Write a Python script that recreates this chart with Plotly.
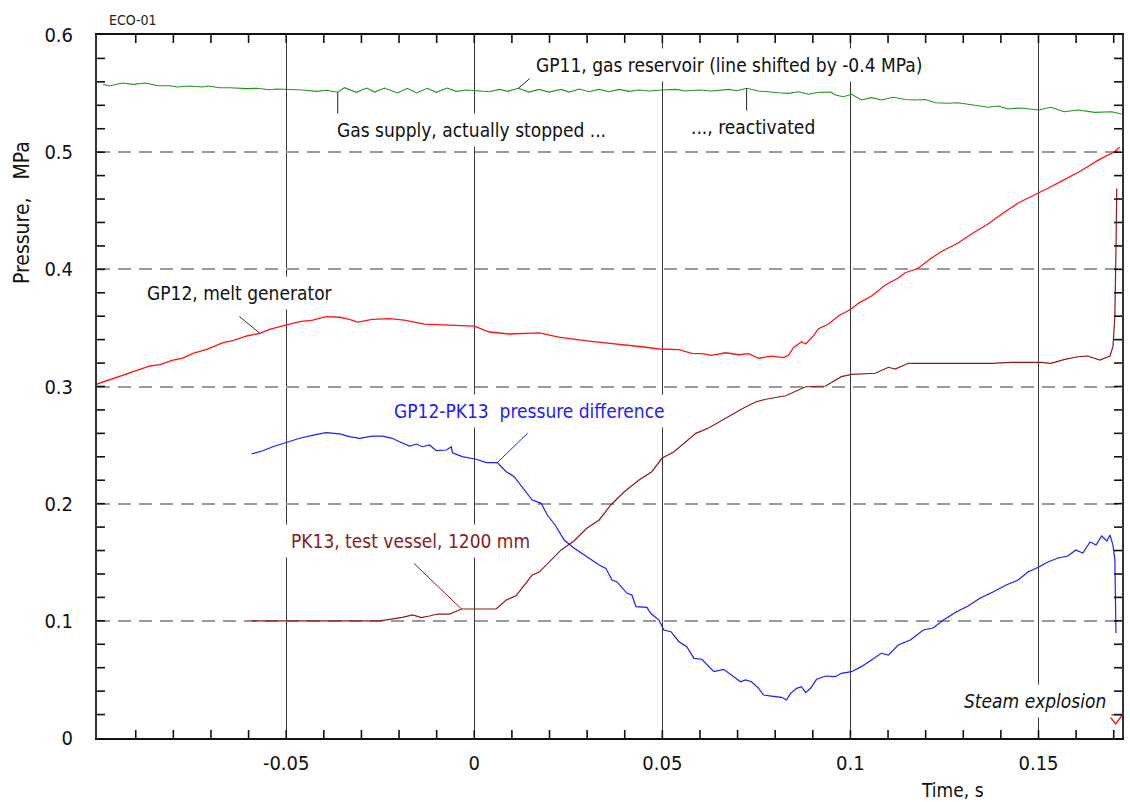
import plotly.graph_objects as go

FONT = "Liberation Sans Narrow, Arial Narrow, DejaVu Sans Condensed, sans-serif"

# ---- GP11, gas reservoir (shifted by -0.4 MPa) ----
gp11_t = [-0.0987, -0.0971, -0.0936, -0.0907, -0.0875, -0.0841, -0.0809, -0.0790, -0.0756,
          -0.0722, -0.0708, -0.0676, -0.0650, -0.0605, -0.0578, -0.0544, -0.0525, -0.0499,
          -0.0456, -0.0419, -0.0393, -0.0363, -0.0345, -0.0313, -0.0286, -0.0265, -0.0239,
          -0.0204, -0.0178, -0.0154, -0.0125, -0.0101, -0.0072, -0.0048, -0.0021, 0.0005,
          0.0040, 0.0066, 0.0088, 0.0117, 0.0146, 0.0172, 0.0199, 0.0231, 0.0252, 0.0279,
          0.0305, 0.0332, 0.0358, 0.0385, 0.0411, 0.0438, 0.0464, 0.0499, 0.0536, 0.0562,
          0.0597, 0.0631, 0.0676, 0.0698, 0.0724, 0.0756, 0.0782, 0.0809, 0.0836, 0.0862,
          0.0889, 0.0915, 0.0947, 0.0960, 0.0981, 0.1003, 0.1029, 0.1056, 0.1082, 0.1114,
          0.1146, 0.1172, 0.1199, 0.1225, 0.1260, 0.1286, 0.1326, 0.1366, 0.1393, 0.1419,
          0.1451, 0.1480, 0.1501, 0.1533, 0.1568, 0.1605, 0.1650, 0.1695, 0.1721]
gp11_p = [0.5579, 0.5565, 0.5590, 0.5579, 0.5590, 0.5567, 0.5567, 0.5556, 0.5565,
          0.5556, 0.5565, 0.5550, 0.5550, 0.5542, 0.5545, 0.5533, 0.5539, 0.5536,
          0.5530, 0.5519, 0.5528, 0.5511, 0.5550, 0.5511, 0.5547, 0.5513, 0.5547,
          0.5505, 0.5545, 0.5505, 0.5545, 0.5511, 0.5547, 0.5519, 0.5530, 0.5524,
          0.5516, 0.5536, 0.5519, 0.5545, 0.5513, 0.5536, 0.5513, 0.5536, 0.5513, 0.5539,
          0.5516, 0.5536, 0.5516, 0.5536, 0.5519, 0.5530, 0.5522, 0.5530, 0.5536, 0.5522,
          0.5530, 0.5522, 0.5536, 0.5524, 0.5545, 0.5522, 0.5513, 0.5507, 0.5502, 0.5516,
          0.5494, 0.5511, 0.5513, 0.5488, 0.5473, 0.5494, 0.5445, 0.5465, 0.5445, 0.5468,
          0.5450, 0.5445, 0.5450, 0.5422, 0.5417, 0.5422, 0.5402, 0.5383, 0.5394, 0.5368,
          0.5377, 0.5368, 0.5360, 0.5383, 0.5345, 0.5360, 0.5340, 0.5345, 0.5326]

# ---- GP12, melt generator ----
gp12_t = [-0.1003, -0.0934, -0.0862, -0.0836, -0.0801, -0.0775, -0.0748, -0.0711, -0.0668,
          -0.0642, -0.0605, -0.0570, -0.0544, -0.0499, -0.0464, -0.0430, -0.0393, -0.0358,
          -0.0332, -0.0310, -0.0271, -0.0225, -0.0186, -0.0133, -0.0080, 0.0000, 0.0040,
          0.0093, 0.0172, 0.0225, 0.0305, 0.0385, 0.0451, 0.0491, 0.0544, 0.0578, 0.0605,
          0.0631, 0.0668, 0.0703, 0.0729, 0.0756, 0.0790, 0.0822, 0.0836, 0.0849, 0.0870,
          0.0881, 0.0902, 0.0915, 0.0942, 0.0968, 0.1003, 0.1021, 0.1056, 0.1093, 0.1127,
          0.1146, 0.1180, 0.1215, 0.1241, 0.1286, 0.1326, 0.1366, 0.1406, 0.1446, 0.1499,
          0.1525, 0.1560, 0.1613, 0.1658, 0.1703, 0.1716]
gp12_p = [0.3021, 0.3098, 0.3175, 0.3186, 0.3226, 0.3243, 0.3283, 0.3317, 0.3374,
          0.3391, 0.3431, 0.3454, 0.3488, 0.3525, 0.3553, 0.3567, 0.3596, 0.3591,
          0.3573, 0.3550, 0.3573, 0.3579, 0.3567, 0.3533, 0.3525, 0.3516, 0.3465,
          0.3448, 0.3457, 0.3422, 0.3388, 0.3363, 0.3337, 0.3320, 0.3314, 0.3283, 0.3280,
          0.3266, 0.3288, 0.3271, 0.3280, 0.3241, 0.3260, 0.3246, 0.3269, 0.3334, 0.3382,
          0.3363, 0.3434, 0.3493, 0.3533, 0.3602, 0.3664, 0.3710, 0.3772, 0.3866, 0.3926,
          0.3971, 0.4009, 0.4094, 0.4150, 0.4225, 0.4310, 0.4387, 0.4481, 0.4566, 0.4646,
          0.4692, 0.4751, 0.4841, 0.4930, 0.5006, 0.5044]

# ---- PK13, test vessel, 1200 mm ----
pk13_t = [-0.0592, -0.0252, -0.0225, -0.0191, -0.0164, -0.0141, -0.0119, -0.0098, -0.0066,
          -0.0034, 0.0058, 0.0085, 0.0111, 0.0127, 0.0154, 0.0172, 0.0199, 0.0231, 0.0265,
          0.0300, 0.0332, 0.0363, 0.0398, 0.0438, 0.0472, 0.0499, 0.0531, 0.0562, 0.0589,
          0.0623, 0.0650, 0.0684, 0.0716, 0.0748, 0.0775, 0.0828, 0.0854, 0.0881, 0.0934,
          0.0976, 0.1003, 0.1066, 0.1101, 0.1119, 0.1154, 0.1286, 0.1374, 0.1427, 0.1507,
          0.1533, 0.1570, 0.1605, 0.1631, 0.1663, 0.1690, 0.1698, 0.1703, 0.1706, 0.1708]
pk13_p = [0.1000, 0.1000, 0.1013, 0.1030, 0.1050, 0.1027, 0.1041, 0.1058, 0.1058,
          0.1101, 0.1101, 0.1178, 0.1214, 0.1278, 0.1391, 0.1414, 0.1505, 0.1605, 0.1681,
          0.1792, 0.1861, 0.1989, 0.2100, 0.2202, 0.2273, 0.2387, 0.2443, 0.2529, 0.2600,
          0.2646, 0.2697, 0.2757, 0.2816, 0.2868, 0.2891, 0.2921, 0.2961, 0.2998, 0.3004,
          0.3084, 0.3104, 0.3113, 0.3164, 0.3149, 0.3198, 0.3198, 0.3198, 0.3206, 0.3206,
          0.3198, 0.3232, 0.3254, 0.3260, 0.3226, 0.3260, 0.3340, 0.3596, 0.4165, 0.4690]

# ---- GP12-PK13 pressure difference ----
diff_t = [-0.0592, -0.0562, -0.0536, -0.0499, -0.0464, -0.0419, -0.0393, -0.0358, -0.0332,
          -0.0305, -0.0271, -0.0244, -0.0218, -0.0199, -0.0172, -0.0154, -0.0138, -0.0119,
          -0.0101, -0.0074, -0.0061, -0.0058, -0.0032, 0.0005, 0.0032, 0.0061, 0.0085,
          0.0106, 0.0127, 0.0154, 0.0178, 0.0194, 0.0215, 0.0239, 0.0265, 0.0292, 0.0318,
          0.0332, 0.0350, 0.0366, 0.0379, 0.0393, 0.0406, 0.0419, 0.0430, 0.0459, 0.0469,
          0.0491, 0.0504, 0.0523, 0.0544, 0.0565, 0.0584, 0.0605, 0.0623, 0.0637, 0.0663,
          0.0684, 0.0708, 0.0721, 0.0737, 0.0756, 0.0769, 0.0790, 0.0817, 0.0830, 0.0841,
          0.0857, 0.0870, 0.0881, 0.0894, 0.0910, 0.0934, 0.0960, 0.0976, 0.1003, 0.1029,
          0.1056, 0.1082, 0.1101, 0.1127, 0.1159, 0.1194, 0.1220, 0.1247, 0.1281, 0.1313,
          0.1345, 0.1379, 0.1414, 0.1446, 0.1472, 0.1501, 0.1525, 0.1552, 0.1578, 0.1599,
          0.1618, 0.1637, 0.1653, 0.1668, 0.1682, 0.1690, 0.1698, 0.1703, 0.1706]
diff_p = [0.2424, 0.2452, 0.2486, 0.2520, 0.2558, 0.2592, 0.2606, 0.2595, 0.2572,
          0.2558, 0.2577, 0.2577, 0.2558, 0.2529, 0.2492, 0.2509, 0.2486, 0.2501,
          0.2452, 0.2458, 0.2486, 0.2435, 0.2401, 0.2379, 0.2350, 0.2350, 0.2273,
          0.2230, 0.2145, 0.2031, 0.2003, 0.1903, 0.1818, 0.1690, 0.1622, 0.1562, 0.1502,
          0.1476, 0.1448, 0.1348, 0.1334, 0.1278, 0.1235, 0.1220, 0.1121, 0.1115, 0.1064,
          0.1007, 0.0922, 0.0907, 0.0822, 0.0779, 0.0680, 0.0672, 0.0609, 0.0566, 0.0586,
          0.0538, 0.0480, 0.0495, 0.0480, 0.0424, 0.0367, 0.0358, 0.0347, 0.0324, 0.0381,
          0.0424, 0.0438, 0.0387, 0.0424, 0.0501, 0.0529, 0.0523, 0.0552, 0.0566, 0.0609,
          0.0666, 0.0723, 0.0708, 0.0794, 0.0836, 0.0922, 0.0939, 0.1007, 0.1075, 0.1127,
          0.1195, 0.1246, 0.1306, 0.1348, 0.1417, 0.1459, 0.1502, 0.1536, 0.1553, 0.1605,
          0.1579, 0.1673, 0.1647, 0.1724, 0.1681, 0.1733, 0.1647, 0.1519, 0.0896]

# steam explosion marker
explosion_t = [0.1705]
explosion_p = [0.0172]

# labelled ticks
x_tick_vals = [-0.05, 0, 0.05, 0.1, 0.15]
x_tick_text = ["-0.05", "0", "0.05", "0.1", "0.15"]
y_tick_vals = [0, 0.1, 0.2, 0.3, 0.4, 0.5, 0.6]
y_tick_text = ["0", "0.1", "0.2", "0.3", "0.4", "0.5", "0.6"]

# small frame ticks (every 0.01 s and every 0.02 MPa)
x_small_ticks = [round(-0.09 + 0.01 * k, 2) for k in range(27)]
y_small_ticks = [round(0.02 * k, 2) for k in range(1, 30)]

X_RANGE = [-0.1003, 0.1722]
Y_RANGE = [0, 0.6]

WIDTH, HEIGHT = 1130, 802
MARGIN = dict(l=97, r=6, t=35, b=64)
PLOT_W = WIDTH - MARGIN["l"] - MARGIN["r"]
PLOT_H = HEIGHT - MARGIN["t"] - MARGIN["b"]
TICK_PX = 8
dx_tick = TICK_PX * (X_RANGE[1] - X_RANGE[0]) / PLOT_W
dy_tick = TICK_PX * (Y_RANGE[1] - Y_RANGE[0]) / PLOT_H

GREEN = "#1e961e"
RED = "#ff1414"
DARKRED = "#8b1a1a"
BLUE = "#1c1cff"
FRAME = "#111111"

fig = go.Figure()
fig.add_trace(go.Scatter(x=gp11_t, y=gp11_p, mode="lines",
                         line=dict(color=GREEN, width=1.1), hoverinfo="skip"))
fig.add_trace(go.Scatter(x=gp12_t, y=gp12_p, mode="lines",
                         line=dict(color=RED, width=1.3), hoverinfo="skip"))
fig.add_trace(go.Scatter(x=pk13_t, y=pk13_p, mode="lines",
                         line=dict(color=DARKRED, width=1.2), hoverinfo="skip"))
fig.add_trace(go.Scatter(x=diff_t, y=diff_p, mode="lines",
                         line=dict(color=BLUE, width=1.2), hoverinfo="skip"))
fig.add_trace(go.Scatter(x=explosion_t, y=explosion_p, mode="markers",
                         marker=dict(symbol="triangle-down-open", size=12,
                                     color=RED, line=dict(color=RED, width=1.5)),
                         hoverinfo="skip"))

# inside tick marks along all four sides of the frame
tick_x, tick_y = [], []
for v in x_small_ticks:
    tick_x += [v, v, None, v, v, None]
    tick_y += [Y_RANGE[0], Y_RANGE[0] + dy_tick, None, Y_RANGE[1], Y_RANGE[1] - dy_tick, None]
for v in y_small_ticks:
    tick_x += [X_RANGE[0], X_RANGE[0] + dx_tick, None, X_RANGE[1], X_RANGE[1] - dx_tick, None]
    tick_y += [v, v, None, v, v, None]
fig.add_trace(go.Scatter(x=tick_x, y=tick_y, mode="lines", connectgaps=False,
                         line=dict(color=FRAME, width=1.6), hoverinfo="skip"))


def point_near(ts, ps, t):
    i = min(range(len(ts)), key=lambda k: abs(ts[k] - t))
    return ts[i], ps[i]


# leader lines from curve points to labels
leaders = [
    (gp11_t, gp11_p, 0.0117, 13, -11, "#222222"),
    (gp11_t, gp11_p, -0.0363, 0, 25, "#222222"),
    (gp11_t, gp11_p, 0.0724, 0, 25, "#222222"),
    (gp12_t, gp12_p, -0.0570, -22, -18, "#333333"),
    (diff_t, diff_p, 0.0061, 32, -31, BLUE),
    (pk13_t, pk13_p, -0.0034, -49, -47, DARKRED),
]
annotations = []
for ts, ps, t0, ax, ay, col in leaders:
    px, py = point_near(ts, ps, t0)
    annotations.append(dict(x=px, y=py, xref="x", yref="y", text="", showarrow=True,
                            arrowhead=0, arrowwidth=1, arrowcolor=col,
                            ax=ax, ay=ay, axref="pixel", ayref="pixel", standoff=0))

LABEL_SIZE = 19
labels = [
    ("GP11, gas reservoir (line shifted by -0.4 MPa)", 0.0148, 0.5744, "#111111", "left", False),
    ("Gas supply, actually stopped ...", -0.0380, 0.5190, "#111111", "left", False),
    ("..., reactivated", 0.0560, 0.5215, "#111111", "left", False),
    ("GP12, melt generator", -0.0886, 0.3798, "#111111", "left", False),
    ("GP12-PK13  pressure difference", -0.0229, 0.2791, BLUE, "left", False),
    ("PK13, test vessel, 1200 mm", -0.0502, 0.1681, DARKRED, "left", False),
    ("Steam explosion", 0.1696, 0.0316, "#111111", "right", True),
]
for text, x, y, col, anchor, italic in labels:
    annotations.append(dict(x=x, y=y, xref="x", yref="y", text=text, showarrow=False,
                            xanchor=anchor, yanchor="middle",
                            font=dict(family=FONT, size=LABEL_SIZE, color=col,
                                      style="italic" if italic else "normal"),
                            bgcolor="white", borderpad=5))

annotations += [
    dict(x=0.0097, y=1.021, xref="paper", yref="paper", text="ECO-01", showarrow=False,
         xanchor="left", yanchor="middle", font=dict(family=FONT, size=14, color="#222222")),
    dict(x=-0.073, y=0.747, xref="paper", yref="paper", text="Pressure,   MPa",
         showarrow=False, textangle=-90, xanchor="center", yanchor="middle",
         font=dict(family=FONT, size=21, color="#111111")),
    dict(x=0.835, y=-0.074, xref="paper", yref="paper", text="Time, s", showarrow=False,
         xanchor="center", yanchor="middle",
         font=dict(family=FONT, size=LABEL_SIZE, color="#111111")),
]

fig.update_layout(
    width=WIDTH, height=HEIGHT,
    margin=MARGIN,
    paper_bgcolor="white", plot_bgcolor="white",
    showlegend=False,
    font=dict(family=FONT, size=20, color="#111111"),
    annotations=annotations,
    xaxis=dict(
        range=X_RANGE, tickmode="array", tickvals=x_tick_vals, ticktext=x_tick_text,
        showgrid=True, gridcolor="#3a3a3a", gridwidth=1, zeroline=False,
        showline=True, linecolor=FRAME, linewidth=2, mirror=True,
        ticks="", ticklabelstandoff=6,
        tickfont=dict(family=FONT, size=20, color="#111111"),
    ),
    yaxis=dict(
        range=Y_RANGE, tickmode="array", tickvals=y_tick_vals, ticktext=y_tick_text,
        showgrid=True, gridcolor="#9a9a9a", gridwidth=1.5, griddash="13px,8px",
        zeroline=False, showline=True, linecolor="#333333", linewidth=2, mirror=True,
        ticks="", ticklabelstandoff=18,
        tickfont=dict(family=FONT, size=20, color="#111111"),
    ),
)

fig.write_html("out.html")
